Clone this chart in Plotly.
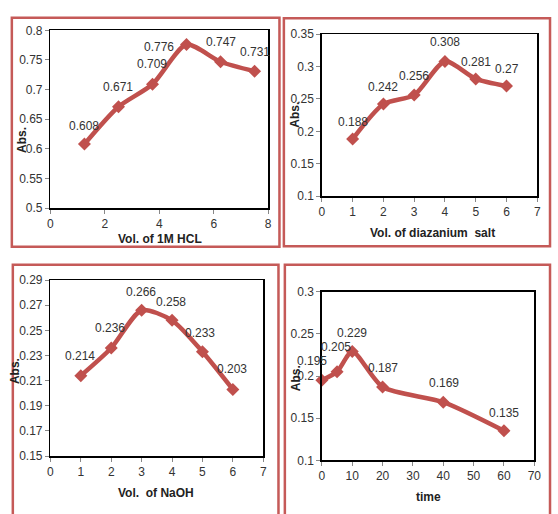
import plotly.graph_objects as go

W, H = 558, 514

# ---------------- data ----------------
hcl_x = [1.25, 2.5, 3.75, 5, 6.25, 7.5]
hcl_y = [0.608, 0.671, 0.709, 0.776, 0.747, 0.731]

diaz_x = [1, 2, 3, 4, 5, 6]
diaz_y = [0.188, 0.242, 0.256, 0.308, 0.281, 0.27]

naoh_x = [1, 2, 3, 4, 5, 6]
naoh_y = [0.214, 0.236, 0.266, 0.258, 0.233, 0.203]

time_x = [0, 5, 10, 20, 40, 60]
time_y = [0.195, 0.205, 0.229, 0.187, 0.169, 0.135]

y1_ticks = [0.5, 0.55, 0.6, 0.65, 0.7, 0.75, 0.8]
y1_text = ["0.5", "0.55", "0.6", "0.65", "0.7", "0.75", "0.8"]
y2_ticks = [0.1, 0.15, 0.2, 0.25, 0.3, 0.35]
y2_text = ["0.1", "0.15", "0.2", "0.25", "0.3", "0.35"]
y3_ticks = [0.15, 0.17, 0.19, 0.21, 0.23, 0.25, 0.27, 0.29]
y3_text = ["0.15", "0.17", "0.19", "0.21", "0.23", "0.25", "0.27", "0.29"]
y4_ticks = [0.1, 0.15, 0.2, 0.25, 0.3]
y4_text = ["0.1", "0.15", "0.2", "0.25", "0.3"]

x_titles = ["Vol. of 1M HCL", "Vol. of diazanium  salt", "Vol.  of NaOH", "time"]
y_title = "Abs."

# ---------------- style ----------------
LINE = "#C0504D"
BORDER = "#C55A58"
FONT = "Liberation Sans, Arial, sans-serif"
TXT = "#333333"


def px(xp):
    return xp / W


def py(yp):
    return 1 - yp / H


# plot-area pixel boxes (left, right, top, bottom)
boxes = [
    (48.3, 270, 24, 206.7),
    (324.7, 544, 28, 194.3),
    (48.3, 265, 280.7, 461.7),
    (324.7, 541, 292.7, 466),
]

series = [(hcl_x, hcl_y), (diaz_x, diaz_y), (naoh_x, naoh_y), (time_x, time_y)]
xranges = [[0, 8], [0, 7], [0, 7], [0, 70]]
xdticks = [2, 1, 1, 10]
yranges = [[0.5, 0.8], [0.1, 0.35], [0.15, 0.29], [0.1, 0.3]]
ytv = [y1_ticks, y2_ticks, y3_ticks, y4_ticks]
ytt = [y1_text, y2_text, y3_text, y4_text]

# label pixel offsets (dx, dy) per point, y positive = up
label_offsets = [
    [(0, 18), (0, 20), (0, 20), (-28, -2), (0, 20), (0, 19)],
    [(0, 17), (0, 17), (0, 19), (0, 19), (0, 17), (1, 17)],
    [(-1, 20), (-1, 20), (-1, 18), (-1, 18), (-2, 19), (-1, 20)],
    [(-10, 19), (-1, 25), (0, 19), (0, 19), (1, 19), (0, 18)],
]

# axis title centres in px
xt_pos = [(160, 238), (437, 232), (156, 500), (433.5, 504)]
yt_pos = [(20, 137), (297, 111), (12.5, 374), (298, 382)]

# panel borders in px (l, r, t, b)
panels = [
    (9, 281.5, 11, 246.5),
    (286, 557, 11.5, 246),
    (10, 280.5, 265, 540),
    (287, 557, 265, 540),
]

fig = go.Figure()
annotations = []
shapes = []
layout = {}

for i in range(4):
    sfx = "" if i == 0 else str(i + 1)
    xs, ys = series[i]
    fig.add_trace(go.Scatter(
        x=xs, y=ys, mode="lines+markers",
        line=dict(color=LINE, width=4.5, shape="spline", smoothing=0.7),
        marker=dict(symbol="diamond", size=10, color=LINE),
        xaxis="x" + sfx, yaxis="y" + sfx, cliponaxis=False, showlegend=False,
        hoverinfo="skip",
    ))
    l, r, t, b = boxes[i]
    layout["xaxis" + sfx] = dict(
        domain=[px(l), px(r)], range=xranges[i], dtick=xdticks[i], tick0=0,
        anchor="y" + sfx, showgrid=False, zeroline=False,
        showline=True, linecolor="#000000", linewidth=1.5, mirror=True,
        ticks="outside", ticklen=4, tickcolor="#888888",
        tickfont=dict(family=FONT, size=12, color=TXT), fixedrange=True,
    )
    layout["yaxis" + sfx] = dict(
        domain=[py(b), py(t)], range=yranges[i], tickvals=ytv[i], ticktext=ytt[i],
        anchor="x" + sfx, showgrid=False, zeroline=False,
        showline=True, linecolor="#000000", linewidth=1.5, mirror=True,
        ticks="outside", ticklen=4, tickcolor="#888888",
        tickfont=dict(family=FONT, size=12, color=TXT), fixedrange=True,
    )
    for j, (xv, yv) in enumerate(zip(xs, ys)):
        dx, dy = label_offsets[i][j]
        annotations.append(dict(
            x=xv, y=yv, xref="x" + sfx, yref="y" + sfx, text=str(yv),
            showarrow=False, xshift=dx, yshift=dy,
            xanchor="center", yanchor="middle",
            font=dict(family=FONT, size=12, color=TXT),
        ))
    xx, xy = xt_pos[i]
    annotations.append(dict(
        x=px(xx), y=py(xy), xref="paper", yref="paper", text="<b>%s</b>" % x_titles[i],
        showarrow=False, xanchor="center", yanchor="middle",
        font=dict(family=FONT, size=12, color="#222222"),
    ))
    yx, yy = yt_pos[i]
    annotations.append(dict(
        x=px(yx), y=py(yy), xref="paper", yref="paper", text="<b>%s</b>" % y_title,
        showarrow=False, textangle=-90, xanchor="center", yanchor="middle",
        font=dict(family=FONT, size=12, color="#222222"),
    ))
    pl, pr, pt, pb = panels[i]
    shapes.append(dict(
        type="rect", xref="paper", yref="paper",
        x0=px(pl), x1=px(pr), y0=py(pb), y1=py(pt),
        line=dict(color=BORDER, width=2.5), fillcolor="rgba(0,0,0,0)", layer="above",
    ))

fig.update_layout(
    width=W, height=H, margin=dict(l=0, r=0, t=0, b=0),
    paper_bgcolor="white", plot_bgcolor="white", hovermode=False,
    annotations=annotations, shapes=shapes, **layout,
)

fig.write_html(
    "out.html",
    config={"displayModeBar": False, "staticPlot": True},
    post_script="document.body.style.margin='0';document.body.style.overflow='hidden';",
)
